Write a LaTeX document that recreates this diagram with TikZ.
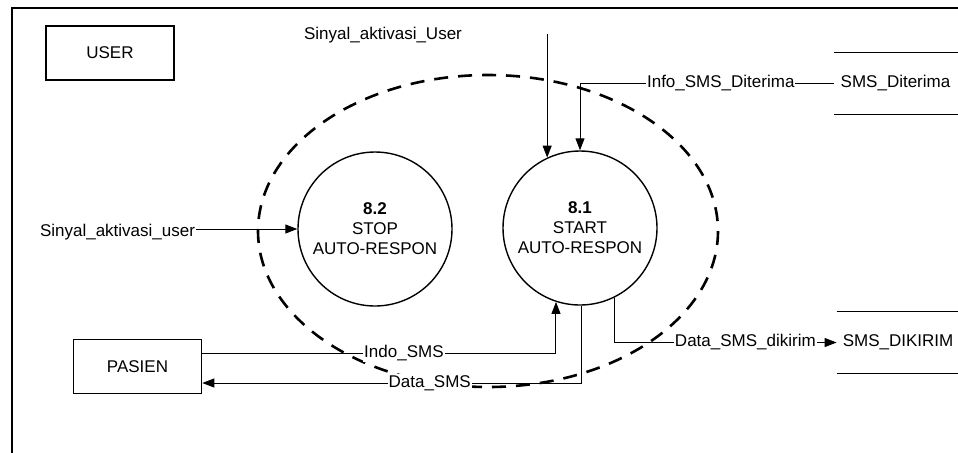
\documentclass[tikz,border=0pt]{standalone}
\usepackage{fontspec}
\setmainfont{Liberation Sans}
\usetikzlibrary{calc,positioning,arrows.meta}

\begin{document}
\begin{tikzpicture}[x=0.5pt,y=-0.5pt]

    \tikzstyle{entity}=[draw,line width=0.8pt,minimum width=64pt,minimum height=27pt,font=\fontsize{8.5}{10}\selectfont]
    \tikzstyle{process}=[draw,circle,line width=0.7pt,minimum size=77pt,inner sep=0pt,align=center,font=\fontsize{8.5}{10}\selectfont]
    \tikzstyle{store}=[minimum width=61pt,minimum height=30.5pt,inner sep=0pt,font=\fontsize{8.5}{10}\selectfont]
    \tikzstyle{flow}=[->,>={Triangle[length=6pt,width=4.5pt]},line width=0.5pt]
    \tikzstyle{lbl}=[fill=white,inner sep=0.5pt,font=\fontsize{8.5}{10}\selectfont]
    \tikzstyle{boundary}=[line width=1.3pt,dash pattern=on 7pt off 5pt]

    \useasboundingbox (0,0) rectangle (958,452);
    \clip (0,0) rectangle (958,452);
    \draw[line width=1pt] (12,8) rectangle (990,490);

    % terminators
    \node (user) [entity] at (110,53) {USER};
    \node (pasien) [entity] at (137.5,366.5) {PASIEN};

    % processes
    \node (p82) [process] at (375,229) {\textbf{8.2}\\STOP\\AUTO-RESPON};
    \node (p81) [process] at (580,228) {\textbf{8.1}\\START\\AUTO-RESPON};

    % data stores
    \node (st_terima) [store] at (895.5,83.5) {SMS\_Diterima};
    \draw [line width=0.6pt] (st_terima.north west) -- ++(200,0);
    \draw [line width=0.6pt] (st_terima.south west) -- ++(200,0);

    \node (st_kirim) [store] at (898,342.5) {SMS\_DIKIRIM};
    \draw [line width=0.6pt] (st_kirim.north west) -- ++(200,0);
    \draw [line width=0.6pt] (st_kirim.south west) -- ++(200,0);

    % boundary of the subsystem
    \draw [boundary] (488,231) ellipse [x radius=230,y radius=156];

    % flows
    \node (lbl_sig_top) [lbl] at (383,35) {Sinyal\_aktivasi\_User};
    \coordinate (sig_top) at ($(p81.115)+(0,-124)$);
    \draw [flow] (sig_top) -- (p81.115);

    \node (lbl_sig_left) [lbl] at (117.5,232) {Sinyal\_aktivasi\_user};
    \draw [flow] (lbl_sig_left.east |- p82.west) -- (p82.west);

    \draw [flow] (st_terima.west) -| (p81.north)
        node [lbl,pos=0.223] {Info\_SMS\_Diterima};

    \draw [flow] ($(pasien.east)+(0,-13.5)$) -| (p81.252)
        node [lbl,pos=0.285] {Indo\_SMS};

    \draw [flow] (p81.271) |- ($(pasien.east)+(0,16.5)$)
        node [lbl,pos=0.70] {Data\_SMS};

    \draw [flow] (p81.296) |- (st_kirim.west)
        node [lbl,pos=0.795] {Data\_SMS\_dikirim};

\end{tikzpicture}
\end{document}
